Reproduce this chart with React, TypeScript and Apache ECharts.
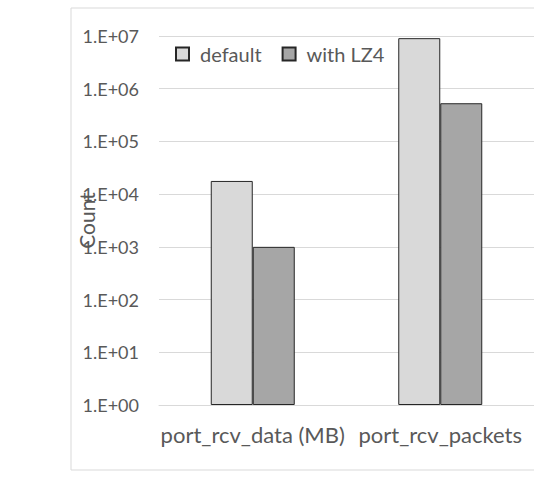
import React, { useEffect, useRef } from "react";
import * as echarts from "echarts";

const categories = ["port_rcv_data (MB)", "port_rcv_packets"];
const seriesNames = ["default", "with LZ4"];
const defaultValues = [17800, 9100000];
const lz4Values = [1000, 530000];
const colors = ["#d9d9d9", "#a6a6a6"];

export default function App() {
  const ref = useRef<HTMLDivElement>(null);
  useEffect(() => {
    const chart = echarts.init(ref.current!, null, { renderer: "svg" });
    const font = "Lato, 'Open Sans', sans-serif";
    chart.setOption({
      animation: false,
      backgroundColor: "#ffffff",
      textStyle: { fontFamily: font },
      graphic: [
        {
          type: "rect",
          shape: { x: 71, y: 8, width: 480, height: 462 },
          style: { fill: "none", stroke: "#d9d9d9", lineWidth: 1 },
          silent: true,
          z: -1,
        },
      ],
      legend: {
        left: 170,
        top: 39,
        itemWidth: 13,
        itemHeight: 13,
        itemGap: 20,
        icon: "rect",
        textStyle: { fontSize: 20, color: "#595959", fontFamily: font, padding: [0, 0, 0, 6] },
        data: seriesNames,
      },
      grid: { left: 159, top: 36, width: 378, bottom: 74 },
      xAxis: {
        type: "category",
        data: categories,
        axisTick: { show: false },
        axisLine: { show: true, lineStyle: { color: "#d9d9d9" } },
        axisLabel: { fontSize: 22, color: "#595959", margin: 18, interval: 0, fontFamily: font },
      },
      yAxis: {
        type: "log",
        logBase: 10,
        min: 1,
        max: 10000000,
        name: "Count",
        nameLocation: "middle",
        nameRotate: 90,
        nameGap: 62,
        nameMoveOverlap: false,
        nameTextStyle: { fontSize: 21, color: "#595959", fontFamily: font },
        axisLine: { show: false },
        axisTick: { show: false },
        splitLine: { lineStyle: { color: "#d9d9d9" } },
        axisLabel: {
          fontSize: 18,
          color: "#595959",
          margin: 20,
          fontFamily: font,
          formatter: (v: number) => {
            const e = Math.round(Math.log10(v));
            return "1.E+" + (e < 10 ? "0" + e : String(e));
          },
        },
      },
      series: [
        {
          name: seriesNames[0],
          type: "bar",
          data: defaultValues,
          barWidth: 42,
          barGap: "0%",
          itemStyle: { color: colors[0], borderColor: "#262626", borderWidth: 1 },
        },
        {
          name: seriesNames[1],
          type: "bar",
          data: lz4Values,
          barWidth: 42,
          barGap: "0%",
          itemStyle: { color: colors[1], borderColor: "#262626", borderWidth: 1 },
        },
      ],
    });
    return () => chart.dispose();
  }, []);
  return (
    <div
      ref={ref}
      style={{ position: "fixed", left: 0, top: 0, width: 534, height: 479 }}
    />
  );
}
